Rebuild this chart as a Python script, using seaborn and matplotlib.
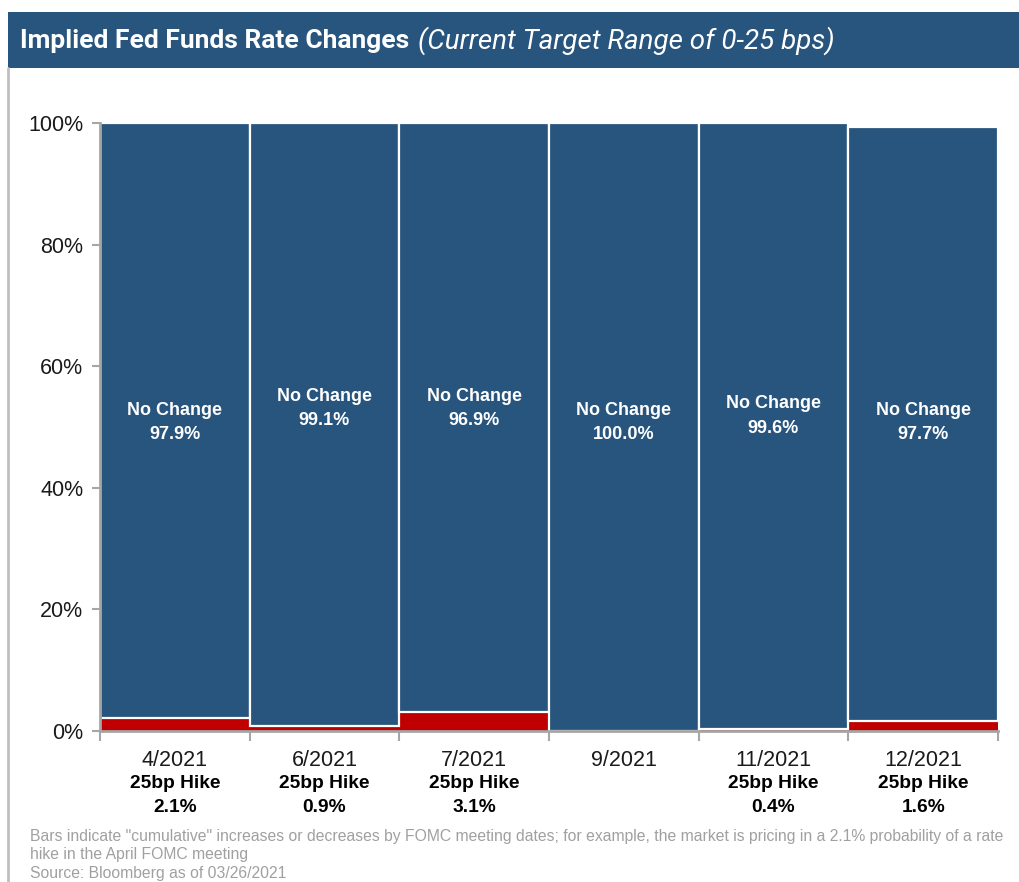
import matplotlib
matplotlib.use("Agg")
import matplotlib.pyplot as plt
from matplotlib.transforms import blended_transform_factory
from matplotlib.patches import Rectangle
from matplotlib.lines import Line2D
import seaborn as sns
import pandas as pd

# FOMC meeting dates and market-implied probabilities (%)
meetings = ["4/2021", "6/2021", "7/2021", "9/2021", "11/2021", "12/2021"]
hike_25bp = [2.1, 0.9, 3.1, 0.0, 0.4, 1.6]
no_change = [97.9, 99.1, 96.9, 100.0, 99.6, 97.7]
y_ticks = [0, 20, 40, 60, 80, 100]

# vertical placement of the in-bar labels (data units)
label_y = [50.8, 53.0, 53.1, 50.7, 51.8, 50.7]

BLUE = "#28557e"
RED = "#c00000"
GREY = "#a6a6a6"

sns.set_theme(style="white")
plt.rcParams["font.family"] = ["Liberation Sans", "DejaVu Sans"]

df = pd.DataFrame({"meeting": meetings, "hike": hike_25bp, "hold": no_change})

W, H = 1020, 882
fig = plt.figure(figsize=(W / 100, H / 100), dpi=100)
ax = fig.add_axes([100 / W, 1 - 731 / H, 898 / W, 608 / H])

sns.barplot(data=df, x="meeting", y="hike", color=RED, saturation=1,
            width=1.0, linewidth=0, ax=ax)
sns.barplot(data=df, x="meeting", y="hold", color=BLUE, saturation=1,
            width=1.0, bottom=df["hike"].to_numpy(), edgecolor="white",
            linewidth=1.6, ax=ax)

ax.set_xlim(-0.5, len(meetings) - 0.5)
ax.set_ylim(0, 100)
ax.set_xlabel("")
ax.set_ylabel("")

# y axis
ax.set_yticks(y_ticks)
ax.set_yticklabels([f"{v}%" for v in y_ticks], fontsize=15.5, color="#1a1a1a")
ax.tick_params(axis="y", which="major", direction="out", length=6, width=1.5,
               color=GREY, pad=6, left=True)

# x axis: ticks at category boundaries, labels drawn below each bar
ax.set_xticks([i - 0.5 for i in range(len(meetings) + 1)])
ax.set_xticklabels([])
ax.tick_params(axis="x", which="major", direction="out", length=7, width=1.5,
               color=GREY, bottom=True)

for side in ["top", "right"]:
    ax.spines[side].set_visible(False)
for side in ["left", "bottom"]:
    ax.spines[side].set_color(GREY)
    ax.spines[side].set_linewidth(2)

# in-bar labels
for i, (v, ly) in enumerate(zip(no_change, label_y)):
    ax.text(i, ly, f"No Change\n{v:.1f}%", ha="center", va="center",
            color="white", fontsize=13, fontweight="bold", linespacing=1.55)

# category labels beneath the axis
tr = blended_transform_factory(ax.transData, fig.transFigure)
for i, (m, h) in enumerate(zip(meetings, hike_25bp)):
    ax.text(i, 1 - 760 / H, m, transform=tr, ha="center", va="center",
            fontsize=15.5, color="#1a1a1a")
    if h > 0:
        ax.text(i, 1 - 783 / H, "25bp Hike", transform=tr, ha="center",
                va="center", fontsize=13.8, fontweight="bold", color="black")
        ax.text(i, 1 - 807 / H, f"{h:.1f}%", transform=tr, ha="center",
                va="center", fontsize=13.8, fontweight="bold", color="black")

# header band with title
fig.add_artist(Rectangle((8 / W, 1 - 68 / H), 1 - 8 / W, 56 / H,
                         transform=fig.transFigure, facecolor=BLUE,
                         edgecolor="none"))
fig.add_artist(Line2D([8 / W, 8 / W], [0, 1 - 68 / H], transform=fig.transFigure,
                      color="#bfbfbf", linewidth=2))
title_main = fig.text(20 / W, 1 - 41 / H, "Implied Fed Funds Rate Changes",
                      ha="left", va="center", color="white", fontsize=19,
                      fontweight="bold", family=["Roboto", "DejaVu Sans"])
fig.canvas.draw()
bb = title_main.get_window_extent()
fig.text((bb.x1 + 9) / W, 1 - 41 / H, "(Current Target Range of 0-25 bps)",
         ha="left", va="center", color="white", fontsize=20, style="italic",
         fontweight="normal", family=["Roboto", "DejaVu Sans"])

# footnote
fig.text(30 / W, 1 - 829 / H,
         'Bars indicate "cumulative" increases or decreases by FOMC meeting dates; '
         'for example, the market is pricing in a 2.1% probability of a rate\n'
         'hike in the April FOMC meeting\nSource: Bloomberg as of 03/26/2021',
         ha="left", va="top", color="#a0a0a0", fontsize=11.3, linespacing=1.28)

fig.savefig("out.png", dpi=100)
